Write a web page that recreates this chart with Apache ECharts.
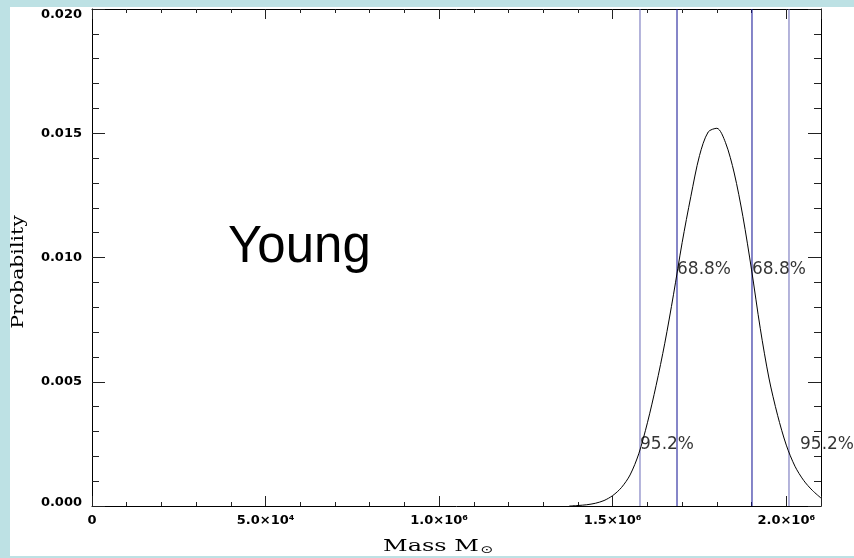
<!DOCTYPE html>
<html>
<head>
<meta charset="utf-8">
<script src="https://cdn.jsdelivr.net/npm/echarts@6/dist/echarts.min.js"></script>
<style>
  html, body { margin: 0; padding: 0; width: 854px; height: 558px; background: #bde1e4; overflow: hidden; }
  #chart { position: absolute; left: 10px; top: 7px; width: 844px; height: 549px; background: #fff; }
</style>
</head>
<body>
<div id="chart"></div>
<script>
// Posterior of the cluster mass (solar masses) and its probability per bin
const massValues = [
  1.375e6, 1.400e6, 1.425e6, 1.450e6, 1.475e6, 1.500e6, 1.525e6, 1.550e6, 1.575e6,
  1.600e6, 1.625e6, 1.650e6, 1.675e6, 1.700e6, 1.725e6, 1.750e6, 1.775e6, 1.800e6,
  1.825e6, 1.850e6, 1.875e6, 1.900e6, 1.925e6, 1.950e6, 1.975e6, 2.000e6, 2.025e6,
  2.050e6, 2.075e6, 2.100e6
];
const probValues = [
  0.00000, 0.00002, 0.00005, 0.00011, 0.00022, 0.00042, 0.00074, 0.00125, 0.00210,
  0.00335, 0.00485, 0.00655, 0.00850, 0.01060, 0.01245, 0.01410, 0.01505, 0.01520,
  0.01462, 0.01340, 0.01165, 0.00950, 0.00715, 0.00515, 0.00365, 0.00245, 0.00160,
  0.00103, 0.00063, 0.00032
];

// Confidence interval bounds
const boundMasses = [1.5786e6, 1.6852e6, 1.9012e6, 2.0078e6];
const boundColors = ['#6a6ab8', '#0c0c92', '#0c0c92', '#6a6ab8'];

// Interval annotations: text and anchor (mass, probability)
const levelTexts = ['95.2%', '68.8%', '68.8%', '95.2%'];
const levelMasses = [1.5786e6, 1.6852e6, 1.9012e6, 2.0395e6];
const levelProbs = [0.00249, 0.0095, 0.0095, 0.00249];

// Axis ticks
const xMajorValues = [0, 5e5, 1e6, 1.5e6, 2e6];
const xMajorLabels = ['0', '5.0×10⁴', '1.0×10⁶', '1.5×10⁶', '2.0×10⁶'];
const yTickValues = [0, 0.005, 0.01, 0.015, 0.02];
const yTickLabels = ['0.000', '0.005', '0.010', '0.015', '0.020'];

const X_MIN = 0, X_MAX = 2.1e6, Y_MIN = 0, Y_MAX = 0.02;
const X_MAJOR_STEP = 5e5, X_MINOR_STEP = 1e5;
const tickFont = { fontFamily: 'DejaVu Sans', fontSize: 13, fontWeight: 'bold', color: '#000' };
const axisStroke = { color: '#000', width: 1 };

function findIndex(list, v) {
  for (let k = 0; k < list.length; k++) {
    if (Math.abs(list[k] - v) < 1e-9 * Math.max(1, Math.abs(v))) return k;
  }
  return -1;
}

function xAxisDef(position, step, len, showLine, showLabel) {
  return {
    type: 'value', position: position, min: X_MIN, max: X_MAX, interval: step,
    axisLine: { show: showLine, onZero: false, lineStyle: axisStroke },
    axisTick: { show: true, inside: true, length: len, lineStyle: { color: '#222', width: 1 } },
    minorTick: { show: false },
    splitLine: { show: false },
    axisLabel: showLabel ? Object.assign({
      show: true, margin: 8, showMaxLabel: true, showMinLabel: true,
      formatter: function (v) {
        const i = findIndex(xMajorValues, v);
        return i >= 0 ? xMajorLabels[i] : '';
      }
    }, tickFont) : { show: false }
  };
}

function yAxisDef(position, showLabel) {
  return {
    type: 'value', position: position, min: Y_MIN, max: Y_MAX, interval: 0.005,
    axisLine: { show: true, onZero: false, lineStyle: axisStroke },
    axisTick: { show: true, inside: true, length: 13, lineStyle: { color: '#222', width: 1 } },
    minorTick: { show: true, splitNumber: 5, length: 7, lineStyle: { color: '#222', width: 1 } },
    splitLine: { show: false },
    axisLabel: showLabel ? Object.assign({
      show: true, margin: 10,
      formatter: function (v) {
        const i = findIndex(yTickValues, v);
        const s = i >= 0 ? yTickLabels[i] : '';
        if (i === yTickValues.length - 1) return '{top|' + s + '}';
        if (i === 0) return '{bot|' + s + '}';
        return s;
      },
      rich: {
        top: Object.assign({ padding: [11, 0, 0, 0] }, tickFont),
        bot: Object.assign({ padding: [0, 0, 6, 0] }, tickFont)
      }
    }, tickFont) : { show: false }
  };
}

const chart = echarts.init(document.getElementById('chart'), null, { renderer: 'canvas' });

// Vertical interval bounds, each spanning the full probability range
const boundSeries = boundMasses.map(function (m, i) {
  return {
    type: 'line',
    xAxisIndex: 0, yAxisIndex: 0,
    data: [[m, Y_MIN], [m, Y_MAX]],
    showSymbol: false,
    silent: true,
    lineStyle: { color: boundColors[i], width: 1 },
    z: 2
  };
});

chart.setOption({
  backgroundColor: '#fff',
  animation: false,
  grid: { left: 82, top: 2, right: 33, bottom: 50, containLabel: false, outerBoundsMode: 'none' },
  xAxis: [
    xAxisDef('bottom', X_MAJOR_STEP, 10, true, true),
    xAxisDef('bottom', X_MINOR_STEP, 4, false, false),
    xAxisDef('top', X_MAJOR_STEP, 10, true, false),
    xAxisDef('top', X_MINOR_STEP, 4, false, false)
  ],
  yAxis: [
    yAxisDef('left', true),
    yAxisDef('right', false)
  ],
  series: boundSeries.concat([
    {
      type: 'line',
      xAxisIndex: 0, yAxisIndex: 0,
      data: massValues.map(function (m, i) { return [m, probValues[i]]; }),
      showSymbol: false,
      smooth: 0.3,
      silent: true,
      lineStyle: { color: '#000', width: 1 },
      z: 3
    },
    {
      type: 'scatter',
      xAxisIndex: 0, yAxisIndex: 0,
      symbolSize: 0,
      silent: true,
      z: 4,
      data: levelMasses.map(function (m, i) { return [m, levelProbs[i], levelTexts[i]]; }),
      label: {
        show: true, position: 'right', distance: 0,
        formatter: function (p) { return p.data[2]; },
        fontFamily: 'DejaVu Sans', fontSize: 17, color: '#000'
      }
    }
  ]),
  graphic: [
    {
      type: 'text', x: 218, y: 241, silent: true,
      style: { text: 'Young', font: '51px "Liberation Sans", Arial, sans-serif',
               fill: '#000', textAlign: 'left', textVerticalAlign: 'middle' }
    },
    {
      type: 'text', x: 428, y: 540, scaleX: 1.5, silent: true,
      style: {
        text: '{a|Mass M}{b|⊙}',
        textAlign: 'center', textVerticalAlign: 'middle',
        rich: {
          a: { fontFamily: 'DejaVu Serif', fontSize: 16, fill: '#000' },
          b: { fontFamily: 'DejaVu Sans', fontSize: 10, fill: '#000', padding: [6, 0, 0, 1] }
        }
      }
    },
    {
      type: 'text', x: 9, y: 265, rotation: Math.PI / 2, scaleX: 1.2, silent: true,
      style: { text: 'Probability', font: '17px "DejaVu Serif", serif',
               fill: '#000', textAlign: 'center', textVerticalAlign: 'middle' }
    }
  ]
});
</script>
</body>
</html>
